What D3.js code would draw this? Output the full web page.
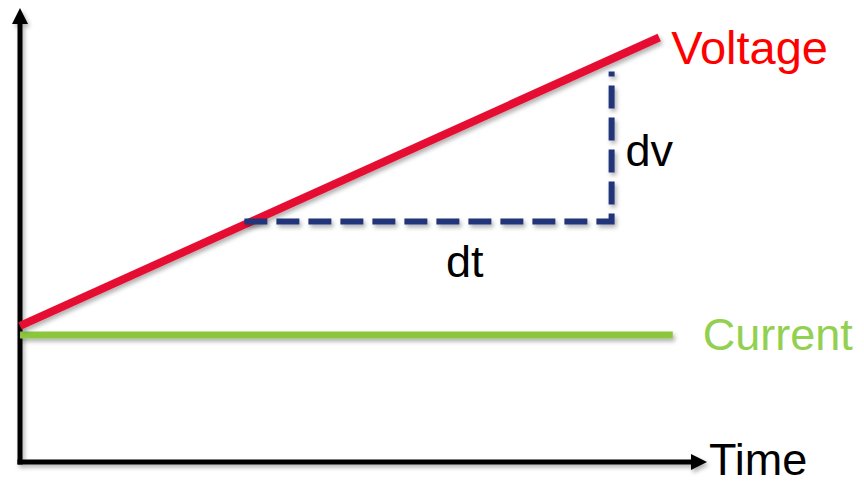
<!DOCTYPE html>
<html>
<head>
<meta charset="utf-8">
<script src="https://cdn.jsdelivr.net/npm/d3@7"></script>
<style>
  body { margin: 0; background: #fff; }
  text { font-family: Arial, "Liberation Sans", sans-serif; }
</style>
</head>
<body>
<div id="chart"></div>
<script>
// data (arbitrary units, time 0..100, value 0..100)
var voltageTime = [0, 94];
var voltageValue = [30, 93.5];
var currentTime = [0, 96];
var currentValue = [28, 28];
var dtTime = [33, 87];
var dtValue = [53, 53];
var dvTime = [87, 87];
var dvValue = [53, 86];
var labels = ["Voltage", "Current", "Time", "dt", "dv"];

var width = 864, height = 485;

var svg = d3.select("#chart")
  .append("svg")
    .attr("width", width)
    .attr("height", height);

// soft drop shadow like the original slide
var defs = svg.append("defs");
defs.append("filter")
    .attr("id", "shadow")
    .attr("filterUnits", "userSpaceOnUse")
    .attr("x", 0).attr("y", 0)
    .attr("width", width).attr("height", height)
  .append("feDropShadow")
    .attr("dx", 2).attr("dy", 3)
    .attr("stdDeviation", 2)
    .attr("flood-color", "#000")
    .attr("flood-opacity", 0.3);

var x = d3.scaleLinear().domain([0, 100]).range([20, 700]);
var y = d3.scaleLinear().domain([0, 100]).range([462, 8]);

function pts(xs, ys) {
  return xs.map(function(d, i) { return [d, ys[i]]; });
}
var line = d3.line()
  .x(function(d) { return x(d[0]); })
  .y(function(d) { return y(d[1]); });

// axes
var axes = svg.append("g").attr("filter", "url(#shadow)");
axes.append("path")
    .attr("d", "M" + x(0) + "," + (y(0) + 2.5) + "V" + (y(100) + 14))
    .attr("stroke", "#000").attr("stroke-width", 5).attr("fill", "none");
axes.append("path")
    .attr("d", "M" + (x(0) - 2.5) + "," + y(0) + "H" + (x(100) - 8))
    .attr("stroke", "#000").attr("stroke-width", 5).attr("fill", "none");
// arrow heads
axes.append("path")
    .attr("d", "M" + x(0) + "," + y(100) + "L" + (x(0) + 8) + "," + (y(100) + 16) +
               "L" + (x(0) - 8) + "," + (y(100) + 16) + "Z")
    .attr("fill", "#000");
axes.append("path")
    .attr("d", "M" + (x(100) + 7) + "," + y(0) + "L" + (x(100) - 9) + "," + (y(0) - 8) +
               "L" + (x(100) - 9) + "," + (y(0) + 8) + "Z")
    .attr("fill", "#000");

// current
svg.append("path")
    .datum(pts(currentTime, currentValue))
    .attr("d", line)
    .attr("fill", "none")
    .attr("stroke", "#8cc63e")
    .attr("stroke-width", 7)
    .attr("filter", "url(#shadow)");

// voltage
svg.append("path")
    .datum(pts(voltageTime, voltageValue))
    .attr("d", line)
    .attr("fill", "none")
    .attr("stroke", "#e60f33")
    .attr("stroke-width", 8)
    .attr("filter", "url(#shadow)");

// dt / dv dashed
svg.append("path")
    .datum(pts(dtTime, dtValue).concat(pts(dvTime, dvValue).slice(1)))
    .attr("d", line)
    .attr("fill", "none")
    .attr("stroke", "#22357a")
    .attr("stroke-width", 6)
    .attr("stroke-dasharray", "23,9")
    .attr("filter", "url(#shadow)");

// labels
var fs = 45;
svg.append("text")
    .attr("x", x(voltageTime[1]) + 12).attr("y", y(voltageValue[1]) + 26)
    .attr("font-size", 47).attr("fill", "#ff0000")
    .text(labels[0]);
svg.append("text")
    .attr("x", x(currentTime[1]) + 30).attr("y", y(currentValue[1]) + 15)
    .attr("font-size", fs).attr("fill", "#92d050")
    .text(labels[1]);
svg.append("text")
    .attr("x", x(100) + 9).attr("y", y(0) + 13)
    .attr("font-size", fs).attr("fill", "#000")
    .text(labels[2]);
svg.append("text")
    .attr("x", x((dtTime[0] + dtTime[1]) / 2) + 18).attr("y", y(dtValue[0]) + 56)
    .attr("font-size", fs).attr("fill", "#000")
    .text(labels[3]);
svg.append("text")
    .attr("x", x(dvTime[0]) + 14).attr("y", y((dvValue[0] + dvValue[1]) / 2) + 20)
    .attr("font-size", fs).attr("fill", "#000")
    .text(labels[4]);
</script>
</body>
</html>
